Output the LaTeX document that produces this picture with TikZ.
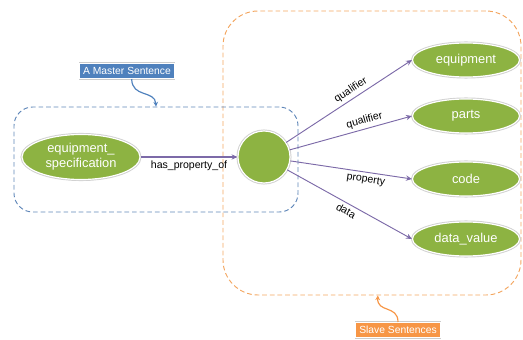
\documentclass[tikz,border=0pt]{standalone}
\usepackage{fontspec}
\setmainfont{Liberation Sans}
\usetikzlibrary{shapes.geometric,arrows.meta}

\definecolor{nodegreen}{RGB}{141,179,66}
\definecolor{linkpurple}{RGB}{124,106,168}
\definecolor{masterblue}{RGB}{79,129,189}
\definecolor{slaveorange}{RGB}{247,150,70}
\definecolor{frameblue}{RGB}{96,135,185}
\definecolor{frameorange}{RGB}{243,166,96}

\tikzset{
  concept/.style={ellipse,fill=nodegreen,draw=white,line width=1pt,
    preaction={draw=black!18,line width=2.6pt},text=white,
    font=\fontsize{11}{13}\selectfont,inner sep=0pt,align=center},
  link/.style={draw=linkpurple,line width=0.8pt,-{Stealth[length=5pt,width=4.5pt]}},
  linklabel/.style={font=\fontsize{9}{10}\selectfont,text=black,sloped,inner sep=2.5pt},
  tag/.style={rectangle,text=white,draw=white,line width=0.6pt,
    preaction={draw=black!20,line width=1.6pt},
    font=\fontsize{8.8}{10}\selectfont,minimum height=0.46cm,inner xsep=3pt,inner ysep=0pt},
  frame/.style={rectangle,dashed,line width=0.8pt,dash pattern=on 4pt off 2.5pt}
}

\begin{document}
\begin{tikzpicture}[x=0.03cm,y=-0.03cm]
\useasboundingbox (0,0) rectangle (523,340);
% the two sentence groups
\node[frame,draw=frameorange,rounded corners=30pt,minimum width=8.94cm,minimum height=8.52cm] (sframe) at (372,153) {};
\node[frame,draw=frameblue,rounded corners=16pt,minimum width=8.52cm,minimum height=3.15cm] (mframe) at (156,159.5) {};
% concepts
\node[concept,minimum width=3.54cm,minimum height=1.35cm] (spec) at (81,157) {equipment\_\\specification};
\node[concept,circle,minimum size=1.56cm] (hub) at (264,157) {};
\node[concept,minimum width=3.21cm,minimum height=1.02cm] (eq) at (466,60) {equipment};
\node[concept,minimum width=3.21cm,minimum height=1.02cm] (parts) at (466,116) {parts};
\node[concept,minimum width=3.21cm,minimum height=1.02cm] (code) at (466,179) {code};
\node[concept,minimum width=3.21cm,minimum height=1.02cm] (datav) at (466,239) {data\_value};
% relations
\draw[link,line width=1.4pt] (spec) -- node[linklabel,below]{has\_property\_of} (hub);
\draw[link] (hub) -- node[linklabel,above,pos=0.55]{qualifier} (eq.west);
\draw[link] (hub) -- node[linklabel,above,pos=0.63]{qualifier} (parts.west);
\draw[link] (hub) -- node[linklabel,below,pos=0.63]{property} (code.west);
\draw[link] (hub) -- node[linklabel,below]{data} (datav.west);
% callouts
\node[tag,fill=masterblue] (mtag) at (127,71) {A Master Sentence};
\node[tag,fill=slaveorange] (stag) at (398,330) {Slave Sentences};
\draw[masterblue,line width=1pt,-{Stealth[length=4pt,width=4pt]}]
  ([xshift=4pt]mtag.south) .. controls (132,98) and (155,90) .. (mframe.north);
\draw[slaveorange,line width=1pt,-{Stealth[length=4pt,width=4pt]}]
  (stag.north) .. controls (398,305) and (377,313) .. ([xshift=5pt]sframe.south);
\end{tikzpicture}
\end{document}
